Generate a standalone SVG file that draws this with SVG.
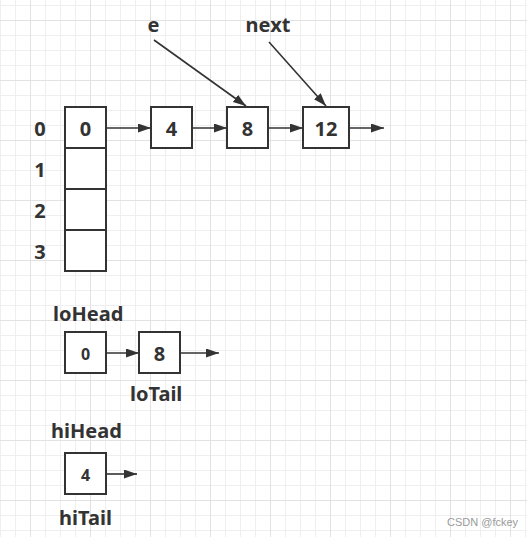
<svg xmlns="http://www.w3.org/2000/svg" width="527" height="537" viewBox="0 0 527 537">
<style>
.box{fill:#fff;stroke:#333;stroke-width:2}
.t{font-family:"Noto Sans","Open Sans","DejaVu Sans",sans-serif;font-weight:bold;fill:#333;font-size:20px}
.c{text-anchor:middle}
.s{font-size:16px}
.line{stroke:#333;stroke-width:1.6;fill:none;marker-end:url(#ah)}
.wm{font-family:"Liberation Sans",Arial,sans-serif;font-size:11px;fill:#9a9a9a}
</style>
<defs>
<marker id="ah" markerUnits="userSpaceOnUse" markerWidth="14" markerHeight="10" refX="13" refY="4.5" orient="auto">
<path d="M0,0 L13,4.5 L0,9 z" fill="#333"/>
</marker>
<pattern id="grid" patternUnits="userSpaceOnUse" x="30" y="20" width="60" height="60">
<path d="M15.5,0V60M30.5,0V60M45.5,0V60M0,15.5H60M0,30.5H60M0,45.5H60" stroke="#efefef" stroke-width="1"/>
<path d="M0.5,0V60M0,0.5H60" stroke="#e2e2e2" stroke-width="1"/>
</pattern>
</defs>
<rect width="527" height="537" fill="#fff"/>
<rect width="527" height="537" fill="url(#grid)"/>

<g id="connectors">
<line class="line" x1="106" y1="128" x2="151" y2="128"/>
<line class="line" x1="192" y1="128" x2="227" y2="128"/>
<line class="line" x1="268" y1="128" x2="303" y2="128"/>
<line class="line" x1="349" y1="128" x2="384" y2="128"/>
<line class="line" x1="154" y1="40" x2="246" y2="106"/>
<line class="line" x1="269" y1="42" x2="326" y2="106"/>
<line class="line" x1="106" y1="353" x2="139" y2="353"/>
<line class="line" x1="180" y1="353" x2="219" y2="353"/>
<line class="line" x1="106" y1="474" x2="137" y2="474"/>
</g>

<g id="index-labels">
<text class="t c" x="40" y="136">0</text>
<text class="t c" x="40" y="177">1</text>
<text class="t c" x="40" y="218">2</text>
<text class="t c" x="40" y="259">3</text>
</g>

<g id="array">
<rect class="box" x="65" y="107" width="41" height="41"/>
<rect class="box" x="65" y="148" width="41" height="41"/>
<rect class="box" x="65" y="189" width="41" height="41"/>
<rect class="box" x="65" y="230" width="41" height="41"/>
<text class="t c" x="85.5" y="136">0</text>
</g>

<g id="node4">
<rect class="box" x="151" y="107" width="41" height="41"/>
<text class="t c" x="171.5" y="136">4</text>
</g>
<g id="node8">
<rect class="box" x="227" y="107" width="41" height="41"/>
<text class="t c" x="247.5" y="136">8</text>
</g>
<g id="node12">
<rect class="box" x="303" y="107" width="46" height="41"/>
<text class="t c" x="326" y="136">12</text>
</g>

<g id="label-e"><text class="t c" x="153.5" y="32">e</text></g>
<g id="label-next"><text class="t c" x="268" y="32">next</text></g>

<g id="loHead-label"><text class="t" x="53" y="321">loHead</text></g>
<g id="lo-node0">
<rect class="box" x="65" y="332" width="41" height="41"/>
<text class="t c s" x="85.5" y="360">0</text>
</g>
<g id="lo-node8">
<rect class="box" x="139" y="332" width="41" height="41"/>
<text class="t c" x="159.5" y="361">8</text>
</g>
<g id="loTail-label"><text class="t" x="130" y="401">loTail</text></g>

<g id="hiHead-label"><text class="t" x="51" y="438">hiHead</text></g>
<g id="hi-node4">
<rect class="box" x="65" y="453" width="41" height="41"/>
<text class="t c s" x="85.5" y="481">4</text>
</g>
<g id="hiTail-label"><text class="t" x="59" y="525">hiTail</text></g>

<text class="wm" x="447" y="526">CSDN @fckey</text>
</svg>
